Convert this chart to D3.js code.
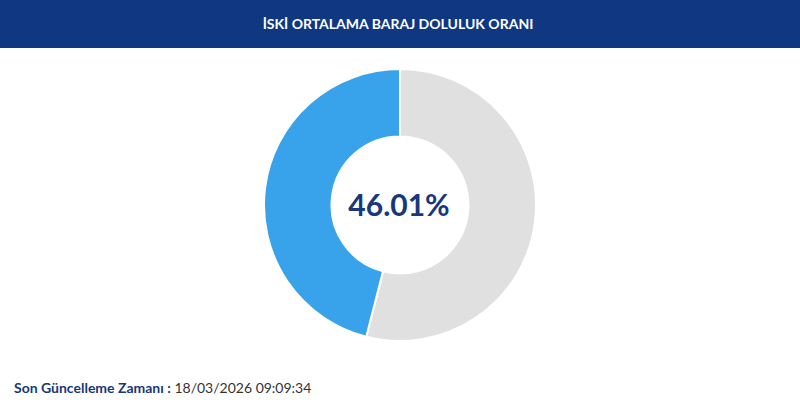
<!DOCTYPE html>
<html><head><meta charset="utf-8">
<script src="https://cdn.jsdelivr.net/npm/d3@7"></script>
<style>body{margin:0;background:#fff;}svg{display:block;}</style>
</head><body>
<svg id="c" width="800" height="415"></svg>
<script>
const title = "İSKİ ORTALAMA BARAJ DOLULUK ORANI";
const categories = ["Boş", "Dolu"];
const values = [53.99, 46.01];
const colors = ["#e0e0e0", "#38a3ea"];
const centerLabel = "46.01%";
const footerLabel = "Son Güncelleme Zamanı :";
const footerValue = " 18/03/2026 09:09:34";

const svg = d3.select("#c");
svg.append("rect").attr("x",0).attr("y",0).attr("width",800).attr("height",48).attr("fill","#0f3782");
svg.append("text").attr("x",398).attr("y",29).attr("text-anchor","middle")
  .attr("font-family","Lato, 'Open Sans', sans-serif").attr("font-weight","bold").attr("font-size",14)
  .attr("fill","#fff").text(title);

const pie = d3.pie().sort(null).value(d=>d)(values);
const arc = d3.arc().innerRadius(68.5).outerRadius(136);
const g = svg.append("g").attr("transform","translate(400,205)");
g.selectAll("path").data(pie).join("path")
  .attr("d",arc).attr("fill",(d,i)=>colors[i])
  .attr("stroke","#fff").attr("stroke-width",2);
g.append("text").attr("text-anchor","middle").attr("x",-1).attr("y",11)
  .attr("font-family","Lato, 'Open Sans', sans-serif").attr("font-weight","bold").attr("font-size",30)
  .attr("fill","#17387a").text(centerLabel);

const ft = svg.append("text").attr("x",14).attr("y",393)
  .attr("font-family","Lato, 'Open Sans', sans-serif").attr("font-size",14);
ft.append("tspan").attr("font-weight","bold").attr("fill","#17387a").text(footerLabel);
ft.append("tspan").attr("fill","#333").text(footerValue);
</script>
</body></html>
